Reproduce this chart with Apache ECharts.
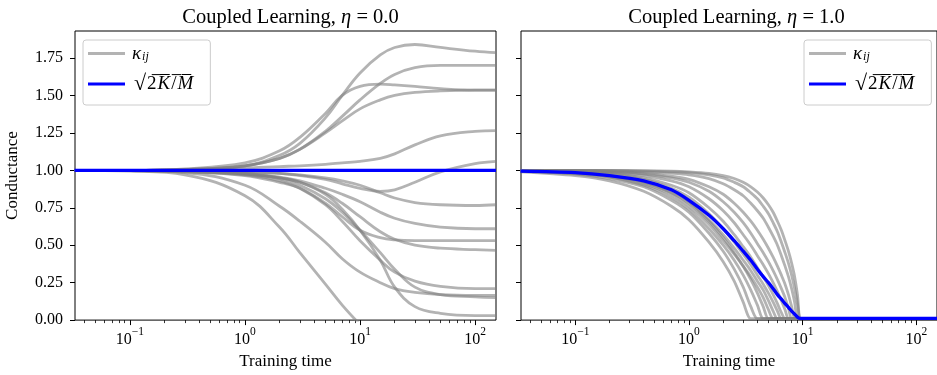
<!DOCTYPE html>
<html><head><meta charset="utf-8">
<script src="https://cdn.jsdelivr.net/npm/echarts@6/dist/echarts.min.js"></script>
<style>html,body{margin:0;padding:0;background:#fff}#c{width:937px;height:375px}</style>
</head><body><div id="c"></div>
<script>
// ---- data ----
const leftTimes = [0.033, 0.1, 0.3, 1, 2, 3, 5, 7, 10, 15, 20, 30, 50, 100, 152];
const leftKappaA = [1.0, 1.0, 1.005, 1.03, 1.1, 1.18, 1.35, 1.5, 1.65, 1.77, 1.82, 1.84, 1.82, 1.795, 1.785];
const leftKappaB = [1.0, 1.0, 1.005, 1.03, 1.08, 1.14, 1.26, 1.36, 1.47, 1.58, 1.64, 1.685, 1.70, 1.70, 1.70];
const leftKappaC = [1.0, 1.0, 1.01, 1.05, 1.13, 1.22, 1.38, 1.5, 1.56, 1.575, 1.57, 1.56, 1.545, 1.535, 1.535];
const leftKappaD = [1.0, 1.0, 1.005, 1.03, 1.08, 1.14, 1.25, 1.33, 1.41, 1.47, 1.5, 1.52, 1.53, 1.535, 1.535];
const leftKappaE = [1.0, 1.0, 1.003, 1.015, 1.025, 1.03, 1.04, 1.05, 1.06, 1.08, 1.11, 1.17, 1.23, 1.26, 1.265];
const leftKappaF = [1.0, 1.0, 0.998, 0.99, 0.98, 0.965, 0.94, 0.91, 0.88, 0.86, 0.87, 0.92, 0.99, 1.045, 1.06];
const leftKappaG = [1.0, 1.0, 0.998, 0.99, 0.98, 0.97, 0.95, 0.93, 0.9, 0.85, 0.815, 0.785, 0.77, 0.765, 0.77];
const leftKappaH = [1.0, 1.0, 0.995, 0.98, 0.955, 0.93, 0.88, 0.84, 0.79, 0.72, 0.68, 0.645, 0.62, 0.61, 0.61];
const leftKappaI = [1.0, 0.998, 0.99, 0.965, 0.92, 0.88, 0.78, 0.69, 0.6, 0.55, 0.535, 0.53, 0.53, 0.53, 0.53];
const leftKappaJ = [1.0, 1.0, 0.995, 0.975, 0.95, 0.92, 0.85, 0.78, 0.69, 0.59, 0.54, 0.5, 0.48, 0.47, 0.465];
const leftKappaK = [1.0, 0.998, 0.99, 0.97, 0.93, 0.88, 0.77, 0.66, 0.53, 0.4, 0.32, 0.26, 0.225, 0.21, 0.21];
const leftKappaM = [1.0, 1.0, 0.993, 0.975, 0.945, 0.9, 0.81, 0.72, 0.6, 0.45, 0.34, 0.22, 0.17, 0.155, 0.15];
const leftKappaN = [1.0, 1.0, 0.995, 0.98, 0.95, 0.92, 0.84, 0.74, 0.6, 0.4, 0.22, 0.09, 0.045, 0.03, 0.03];
const leftKappaO = [1.0, 0.995, 0.97, 0.83, 0.62, 0.45, 0.24, 0.1, -0.03];
const leftKappaP = [1.0, 0.998, 0.985, 0.9, 0.76, 0.66, 0.52, 0.41, 0.32, 0.25, 0.21, 0.185, 0.17, 0.165, 0.165];
const leftSqrt = [1.0, 1.0, 1.0, 1.0, 1.0, 1.0, 1.0, 1.0, 1.0, 1.0, 1.0, 1.0, 1.0, 1.0, 1.0];

const rightTimes = [0.033, 0.1, 0.2, 0.4, 0.7, 1, 1.5, 2, 2.5, 3, 3.5, 4, 4.5, 5, 5.5, 6, 6.5, 7, 7.5, 8, 8.5, 9, 9.5, 10, 152];
const rightKappa1 = [0.99,0.965,0.93,0.86,0.76,0.67,0.52,0.39,0.26,0.12,0.01,0.01,0.01,0.01,0.01,0.01,0.01,0.01,0.01,0.01,0.01,0.01,0.01,0.01,0.01];
const rightKappa2 = [0.995,0.975,0.945,0.89,0.8,0.72,0.58,0.46,0.34,0.22,0.09,0.01,0.01,0.01,0.01,0.01,0.01,0.01,0.01,0.01,0.01,0.01,0.01,0.01,0.01];
const rightKappa3 = [0.995,0.98,0.955,0.9,0.82,0.74,0.61,0.5,0.4,0.3,0.2,0.1,0.01,0.01,0.01,0.01,0.01,0.01,0.01,0.01,0.01,0.01,0.01,0.01,0.01];
const rightKappa4 = [0.995,0.985,0.965,0.92,0.85,0.78,0.66,0.55,0.45,0.36,0.27,0.18,0.09,0.01,0.01,0.01,0.01,0.01,0.01,0.01,0.01,0.01,0.01,0.01,0.01];
const rightKappa5 = [0.995,0.98,0.96,0.91,0.84,0.76,0.64,0.53,0.44,0.36,0.29,0.22,0.15,0.07,0.01,0.01,0.01,0.01,0.01,0.01,0.01,0.01,0.01,0.01,0.01];
const rightKappa6 = [0.995,0.985,0.965,0.925,0.86,0.79,0.67,0.57,0.48,0.4,0.33,0.26,0.2,0.13,0.06,0.01,0.01,0.01,0.01,0.01,0.01,0.01,0.01,0.01,0.01];
const rightKappa7 = [0.998,0.99,0.975,0.94,0.88,0.82,0.71,0.61,0.52,0.44,0.37,0.3,0.24,0.18,0.12,0.06,0.01,0.01,0.01,0.01,0.01,0.01,0.01,0.01,0.01];
const rightKappa8 = [0.998,0.99,0.98,0.95,0.9,0.85,0.75,0.66,0.57,0.49,0.42,0.35,0.29,0.23,0.17,0.11,0.05,0.01,0.01,0.01,0.01,0.01,0.01,0.01,0.01];
const rightKappa9 = [1.0,0.995,0.985,0.965,0.93,0.89,0.81,0.73,0.65,0.57,0.5,0.43,0.37,0.31,0.25,0.19,0.13,0.07,0.01,0.01,0.01,0.01,0.01,0.01,0.01];
const rightKappa10 = [1.0,0.995,0.99,0.975,0.95,0.92,0.86,0.79,0.72,0.65,0.58,0.51,0.45,0.39,0.33,0.27,0.21,0.15,0.08,0.01,0.01,0.01,0.01,0.01,0.01];
const rightKappa11 = [1.0,0.998,0.993,0.98,0.96,0.94,0.89,0.84,0.78,0.72,0.66,0.6,0.54,0.48,0.42,0.36,0.3,0.24,0.17,0.09,0.01,0.01,0.01,0.01,0.01];
const rightKappa12 = [1.0,0.999,0.997,0.99,0.98,0.97,0.945,0.91,0.87,0.83,0.78,0.73,0.68,0.62,0.56,0.5,0.43,0.36,0.29,0.21,0.12,0.01,0.01,0.01,0.01];
const rightKappa13 = [1.0,1.0,0.998,0.995,0.99,0.985,0.97,0.95,0.92,0.89,0.85,0.81,0.76,0.71,0.65,0.59,0.52,0.45,0.38,0.3,0.21,0.11,0.01,0.01,0.01];
const rightKappa14 = [1.0,1.0,1.0,0.998,0.995,0.99,0.98,0.965,0.945,0.92,0.89,0.855,0.815,0.77,0.72,0.66,0.6,0.53,0.46,0.38,0.29,0.17,0.01,0.01,0.01];
const rightSqrt = [0.995,0.985,0.965,0.93,0.87,0.8,0.7,0.61,0.53,0.46,0.4,0.34,0.29,0.25,0.21,0.17,0.14,0.11,0.085,0.06,0.04,0.02,0.012,0.012,0.012];

const xMajorTicks = [0.1, 1, 10, 100];
const xMinorTicks = [0.04,0.05,0.06,0.07,0.08,0.09,0.2,0.3,0.4,0.5,0.6,0.7,0.8,0.9,2,3,4,5,6,7,8,9,20,30,40,50,60,70,80,90];
const yTicks = [0, 0.25, 0.5, 0.75, 1.0, 1.25, 1.5, 1.75];
const panelTitles = ['0.0', '1.0'];
const kappaName = 'κij';
const sqrtName = '√2K/M';

// ---- styling / building ----
const FONT = 'Liberation Serif';
const GRAY = 'rgba(128,128,128,0.6)';
const BLUE = '#0000ff';
const leftKappas = [leftKappaA, leftKappaB, leftKappaC, leftKappaD, leftKappaE, leftKappaF, leftKappaG, leftKappaH, leftKappaI, leftKappaJ, leftKappaK, leftKappaM, leftKappaN, leftKappaO, leftKappaP];
const rightKappas = [rightKappa1, rightKappa2, rightKappa3, rightKappa4, rightKappa5, rightKappa6, rightKappa7, rightKappa8, rightKappa9, rightKappa10, rightKappa11, rightKappa12, rightKappa13, rightKappa14];

function pairs(ts, vs) { return vs.map((v, i) => [ts[i], v]); }
function graySeries(ts, vs, axis, smooth) {
  return { type: 'line', name: kappaName, xAxisIndex: axis.x, yAxisIndex: axis.y, data: pairs(ts, vs),
    showSymbol: false, symbol: 'none', smooth: smooth, silent: true, animation: false,
    lineStyle: { color: GRAY, width: 2.8 }, itemStyle: { color: GRAY } };
}
function blueSeries(ts, vs, axis, smooth) {
  return { type: 'line', name: sqrtName, xAxisIndex: axis.x, yAxisIndex: axis.y, data: pairs(ts, vs),
    showSymbol: false, symbol: 'none', smooth: smooth, silent: true, animation: false, z: 5,
    lineStyle: { color: BLUE, width: 3.3 }, itemStyle: { color: BLUE } };
}
const series = [];
leftKappas.forEach(v => series.push(graySeries(leftTimes, v, {x:0,y:0}, 0.4)));
series.push(blueSeries(leftTimes, leftSqrt, {x:0,y:0}, 0));
rightKappas.forEach(v => series.push(graySeries(rightTimes, v, {x:2,y:1}, 0.3)));
series.push(blueSeries(rightTimes, rightSqrt, {x:2,y:1}, 0.3));

function expLabel(v) {
  const e = Math.round(Math.log10(v));
  return '{b|10}{e|' + (e < 0 ? '−' + (-e) : String(e)) + '}';
}
function majorX(grid) {
  return { type: 'log', logBase: 10, gridIndex: grid, min: 0.0333, max: 152, position: 'bottom',
    axisLine: { show: false }, splitLine: { show: false },
    axisTick: { show: true, customValues: xMajorTicks, length: 5, lineStyle: { color: '#000', width: 1 } },
    axisLabel: { show: true, customValues: xMajorTicks, margin: 6, formatter: expLabel,
      rich: { b: { fontFamily: FONT, fontSize: 16, color: '#000', lineHeight: 22, verticalAlign: 'bottom' },
              e: { fontFamily: FONT, fontSize: 11.5, color: '#000', lineHeight: 22, verticalAlign: 'top' } } },
    name: 'Training time', nameLocation: 'middle', nameGap: 31,
    nameTextStyle: { fontFamily: FONT, fontSize: 17, color: '#000' } };
}
function minorX(grid) {
  return { type: 'log', logBase: 10, gridIndex: grid, min: 0.0333, max: 152, position: 'bottom',
    axisLine: { show: false }, splitLine: { show: false }, axisLabel: { show: false },
    axisTick: { show: true, customValues: xMinorTicks, length: 3, lineStyle: { color: '#000', width: 0.8 } } };
}
function yAx(grid, showLabels) {
  const a = { type: 'value', gridIndex: grid, min: 0, max: 1.93,
    axisLine: { show: false }, splitLine: { show: false },
    axisTick: { show: true, customValues: yTicks, length: 5, lineStyle: { color: '#000', width: 1 } },
    axisLabel: { show: showLabels, customValues: yTicks, margin: 12, formatter: v => v.toFixed(2),
      fontFamily: FONT, fontSize: 16, color: '#000' } };
  if (showLabels) {
    a.name = 'Conductance'; a.nameLocation = 'middle'; a.nameGap = 54;
    a.nameTextStyle = { fontFamily: FONT, fontSize: 17, color: '#000' };
  }
  return a;
}
function legendAt(left) {
  return { left: left, top: 40, orient: 'vertical', selectedMode: false, data: [kappaName, sqrtName],
    icon: 'rect', itemWidth: 37, itemHeight: 3, itemGap: 10,
    padding: [4, 16, 10, 5], backgroundColor: 'rgba(255,255,255,0.8)', borderColor: '#cccccc', borderWidth: 1, borderRadius: 3,
    formatter: n => n === kappaName ? '{k|κ}{s|ij}' : '{r|√}{m|2\u0305}{i|K\u0305}{m|/\u0305}{i|M\u0305}',
    textStyle: { color: '#000', fontFamily: FONT, fontSize: 18, lineHeight: 18,
      rich: { k: { fontFamily: FONT, fontStyle: 'italic', fontSize: 19, lineHeight: 18, verticalAlign: 'middle', padding: [0, 1, 0, 2] },
              s: { fontFamily: FONT, fontStyle: 'italic', fontSize: 12, lineHeight: 18, verticalAlign: 'bottom' },
              r: { fontFamily: FONT, fontSize: 22, lineHeight: 18, padding: [0, 1, 0, 4] },
              m: { fontFamily: FONT, fontSize: 19, lineHeight: 18 },
              i: { fontFamily: FONT, fontStyle: 'italic', fontSize: 19, lineHeight: 18, padding: [0, 1, 0, 1] } } } };
}
function titleAt(center, val) {
  return { text: '{n|Coupled Learning, }{i|η}{n| = ' + val + '}', left: center, top: 1, textAlign: 'center',
    textStyle: { fontWeight: 'normal', rich: {
      n: { fontFamily: FONT, fontSize: 20.5, fontWeight: 'normal', color: '#000', lineHeight: 24 },
      i: { fontFamily: FONT, fontStyle: 'italic', fontWeight: 'normal', fontSize: 20.5, color: '#000', lineHeight: 24 } } } };
}

const chart = echarts.init(document.getElementById('c'), null, { renderer: 'canvas' });
chart.setOption({
  animation: false,
  backgroundColor: '#fff',
  title: [titleAt(285.5, panelTitles[0]), titleAt(731.5, panelTitles[1])],
  legend: [legendAt(83), legendAt(804)],
  grid: [
    { left: 75, top: 31, width: 421, height: 293, show: true, borderColor: '#000', borderWidth: 1, backgroundColor: 'transparent' },
    { left: 521, top: 31, width: 421, height: 293, show: true, borderColor: '#000', borderWidth: 1, backgroundColor: 'transparent' }
  ],
  xAxis: [majorX(0), minorX(0), majorX(1), minorX(1)],
  yAxis: [yAx(0, true), yAx(1, false)],
  series: series
});
</script></body></html>
